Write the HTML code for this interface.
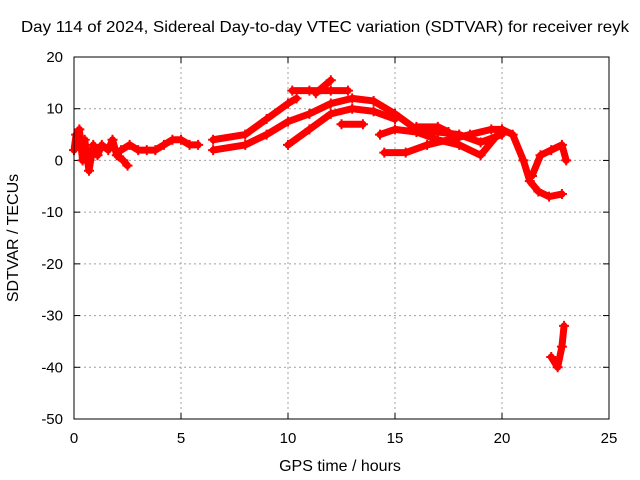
<!DOCTYPE html>
<html><head><meta charset="utf-8"><style>
body{margin:0;background:#fff}
svg{display:block;font-family:"Liberation Sans",sans-serif}
</style></head><body>
<svg id="chart" width="640" height="480">
<rect width="640" height="480" fill="#fff"/>
<text x="325" y="32" font-size="16" textLength="608" lengthAdjust="spacingAndGlyphs" text-anchor="middle">Day 114 of 2024, Sidereal Day-to-day VTEC variation (SDTVAR) for receiver reyk</text>
<text x="340" y="471" font-size="16" text-anchor="middle">GPS time / hours</text>
<text transform="translate(18,238) rotate(-90)" font-size="16" text-anchor="middle">SDTVAR / TECUs</text>
<g id="grid"></g><g id="marks"></g>
<rect x="74" y="57" width="535" height="362" fill="none" stroke="#000"/>
</svg>
<script>
const xTicks=[0,5,10,15,20,25];
const yTicks=[20,10,0,-10,-20,-30,-40,-50];
const trackA=[[0,2],[0.1,5],[0.25,6],[0.4,0],[0.5,4],[0.7,-2],[0.9,3],[1.1,1],[1.3,3],[1.6,2],[1.8,4],[2,1],[2.3,0],[2.5,-1]];
const trackB=[[2.2,2],[2.6,3],[3,2],[3.4,2],[3.8,2],[4.2,3],[4.6,4],[5,4],[5.4,3],[5.8,3]];
const band1=[[6.5,2],[8,3],[9,5],[10,7.5],[11,9],[12,11],[13,12],[14,11.5],[15,9],[16,6],[17,5.5],[18,5],[19,3.5],[20,5]];
const band2=[[6.5,4],[8,5],[9,8],[10,11],[10.4,12]];
const band3=[[10,3],[11,6],[12,9],[13,10],[14,9.5],[15,8]];
const topBand=[[10.2,13.5],[11,13.5],[12,13.5],[12.8,13.5]];
const spike=[[11.3,13],[12,15.5]];
const shortSeg=[[12.5,7],[13.5,7]];
const band4=[[14.3,5],[15,6],[16,5.5],[17,4],[18,3],[19,1],[20,6],[20.5,5],[21,0],[21.3,-4],[21.7,-6],[22.2,-7],[22.8,-6.5]];
const lowBand=[[14.5,1.5],[15.5,1.5],[16.5,3],[17.5,4],[18.5,5],[19.5,6],[20,6]];
const band5=[[16,6.5],[17,6.5],[17.5,5.5]];
const zig=[[21.4,-3],[21.8,1],[22.3,2],[22.8,3],[23,0]];
const dip=[[22.3,-38],[22.6,-40],[22.8,-36],[22.9,-32]];
const tracks=[trackA,trackB,band1,band2,band3,topBand,spike,shortSeg,band4,lowBand,band5,zig,dip];
const X=h=>74+h*(535/25), Y=v=>57+(20-v)*(362/70);
const NS="http://www.w3.org/2000/svg";
const grid=document.getElementById('grid'), marks=document.getElementById('marks');
function mk(tag,at,par){const e=document.createElementNS(NS,tag);for(const k in at)e.setAttribute(k,at[k]);par.appendChild(e);return e;}
xTicks.forEach(t=>{
 if(t>0&&t<25){const l=mk('line',{x1:X(t),x2:X(t),y1:57,y2:419,stroke:'#a0a0a0','stroke-dasharray':'2,3'},grid);
 
 }
 const tx=mk('text',{x:X(t),y:443,'font-size':15,'text-anchor':'middle'},grid);tx.textContent=t;
 
 
 mk('line',{x1:X(t),x2:X(t),y1:419,y2:413,stroke:'#000'},grid);mk('line',{x1:X(t),x2:X(t),y1:57,y2:63,stroke:'#000'},grid);
});
yTicks.forEach(t=>{
 if(t<20&&t>-50){const l=mk('line',{x1:74,x2:609,y1:Y(t),y2:Y(t),stroke:'#a0a0a0','stroke-dasharray':'2,3'},grid);
 
 }
 const tx=mk('text',{x:63,y:Y(t)+5,'font-size':15,'text-anchor':'end'},grid);tx.textContent=t;
 
 
 mk('line',{x1:74,x2:80,y1:Y(t),y2:Y(t),stroke:'#000'},grid);mk('line',{x1:609,x2:603,y1:Y(t),y2:Y(t),stroke:'#000'},grid);
});
tracks.forEach(tr=>{
 const p=mk('polyline',{points:tr.map(d=>X(d[0])+','+Y(d[1])).join(' '),fill:'none',stroke:'#f00','stroke-width':7,'stroke-linejoin':'round','stroke-linecap':'round'},marks);
 
 
 tr.forEach(d=>{
  const m=mk('path',{d:`M${X(d[0])-5},${Y(d[1])}h10M${X(d[0])},${Y(d[1])-5}v10`,stroke:'#f00','stroke-width':2},marks);
  
  
 });
});
</script>
</body></html>
